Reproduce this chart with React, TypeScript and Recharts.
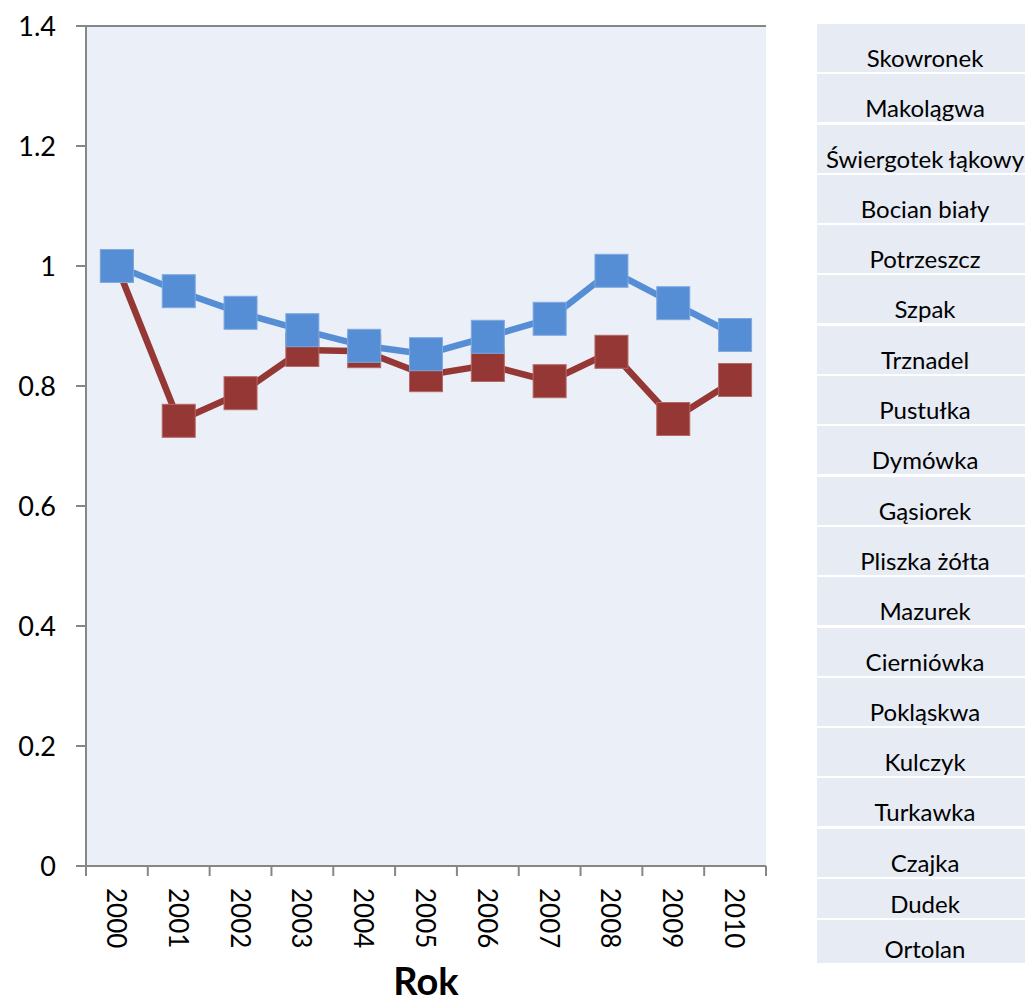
import React from "react";
import {
  LineChart,
  Line,
  XAxis,
  YAxis,
  CartesianGrid,
} from "recharts";

const years = ["2000", "2001", "2002", "2003", "2004", "2005", "2006", "2007", "2008", "2009", "2010"];
const blueSeries = [1.0, 0.958, 0.922, 0.893, 0.867, 0.853, 0.882, 0.912, 0.992, 0.938, 0.885];
const redSeries = [1.0, 0.742, 0.788, 0.86, 0.858, 0.818, 0.835, 0.808, 0.857, 0.745, 0.81];
const yTicks = [0, 0.2, 0.4, 0.6, 0.8, 1.0, 1.2, 1.4];
const species = [
  "Skowronek",
  "Makolągwa",
  "Świergotek łąkowy",
  "Bocian biały",
  "Potrzeszcz",
  "Szpak",
  "Trznadel",
  "Pustułka",
  "Dymówka",
  "Gąsiorek",
  "Pliszka żółta",
  "Mazurek",
  "Cierniówka",
  "Pokląskwa",
  "Kulczyk",
  "Turkawka",
  "Czajka",
  "Dudek",
  "Ortolan",
];

const data = years.map((year, i) => ({
  year,
  blue: blueSeries[i],
  red: redSeries[i],
}));

const W = 1025;
const H = 1003;
const PLOT_LEFT = 86;
const PLOT_RIGHT = 766;
const BAND = (PLOT_RIGHT - PLOT_LEFT) / years.length;
const GRID = "#868686";
const FONT = "Lato, 'Open Sans', sans-serif";

const squareDot = (color: string, border: string) => (props: any) => {
  const { cx, cy, index } = props;
  if (cx == null || cy == null) return <g key={index} />;
  return (
    <rect
      key={index}
      x={cx - 16.5}
      y={cy - 16.5}
      width={33}
      height={33}
      fill={color}
      stroke={border}
      strokeWidth={1}
    />
  );
};

const YearTick = (props: any) => {
  const { x, y, payload, index } = props;
  const left = x - BAND / 2;
  return (
    <g>
      <line x1={left} y1={y} x2={left} y2={y + 10} stroke={GRID} strokeWidth={2} />
      {index === years.length - 1 && (
        <line x1={x + BAND / 2} y1={y} x2={x + BAND / 2} y2={y + 10} stroke={GRID} strokeWidth={2} />
      )}
      <text
        transform={`translate(${x},${y + 22}) rotate(90)`}
        textAnchor="start"
        dominantBaseline="central"
        fontSize={26}
        fontFamily={FONT}
        fill="#000"
      >
        {payload.value}
      </text>
    </g>
  );
};

const rowHeight = (i: number) => (i === 17 ? 39 : i === 18 ? 43 : 48);

const SpeciesList: React.FC = () => (
  <div
    style={{
      position: "absolute",
      left: 817,
      top: 24,
      width: W - 817,
      overflow: "hidden",
      fontFamily: FONT,
      fontSize: 24,
      color: "#000",
    }}
  >
    {species.map((name, i) => (
      <div
        key={name}
        style={{
          width: 216,
          height: rowHeight(i),
          marginBottom: 2.3,
          background: "#E7EBF3",
          display: "flex",
          alignItems: "flex-end",
          justifyContent: "center",
          whiteSpace: "nowrap",
          lineHeight: "24px",
          paddingBottom: 2,
          boxSizing: "border-box",
        }}
      >
        {name}
      </div>
    ))}
  </div>
);

export default function App() {
  return (
    <div style={{ position: "absolute", left: 0, top: 0, width: W, height: H, background: "#fff" }}>
      <LineChart
        width={W}
        height={H}
        data={data}
        margin={{ top: 26, right: W - PLOT_RIGHT, bottom: 0, left: 0 }}
      >
        <CartesianGrid
          vertical={false}
          stroke={GRID}
          strokeWidth={2}
          fill="#EBF0F8"
          fillOpacity={1}
        />
        <XAxis
          dataKey="year"
          scale="band"
          height={137}
          tickLine={false}
          tickSize={0}
          tickMargin={0}
          axisLine={{ stroke: GRID, strokeWidth: 2 }}
          tick={<YearTick />}
          interval={0}
          label={{
            value: "Rok",
            position: "insideBottom",
            offset: 8,
            style: { fontSize: 38, fontWeight: 700, fontFamily: FONT, fill: "#000" },
          }}
        />
        <YAxis
          yAxisId="left"
          width={PLOT_LEFT}
          domain={[0, 1.4]}
          ticks={yTicks}
          interval={0}
          tickSize={10}
          tickMargin={20}
          tickLine={{ stroke: GRID, strokeWidth: 2 }}
          axisLine={{ stroke: GRID, strokeWidth: 2 }}
          tick={{ fontSize: 27, fontFamily: FONT, fill: "#000" }}
          tickFormatter={(v: number) => String(Number(v.toFixed(1)))}
        />
        <YAxis
          yAxisId="right"
          orientation="right"
          width={0}
          domain={[0, 1.4]}
          tick={false}
          tickLine={false}
          axisLine={{ stroke: GRID, strokeWidth: 2 }}
        />
        <Line
          yAxisId="left"
          dataKey="red"
          stroke="#953735"
          strokeWidth={6.5}
          dot={squareDot("#953735", "#B56865")}
          activeDot={false}
          isAnimationActive={false}
        />
        <Line
          yAxisId="left"
          dataKey="blue"
          stroke="#558ED5"
          strokeWidth={6.5}
          dot={squareDot("#558ED5", "#7FA9E0")}
          activeDot={false}
          isAnimationActive={false}
        />
      </LineChart>
      <SpeciesList />
    </div>
  );
}
